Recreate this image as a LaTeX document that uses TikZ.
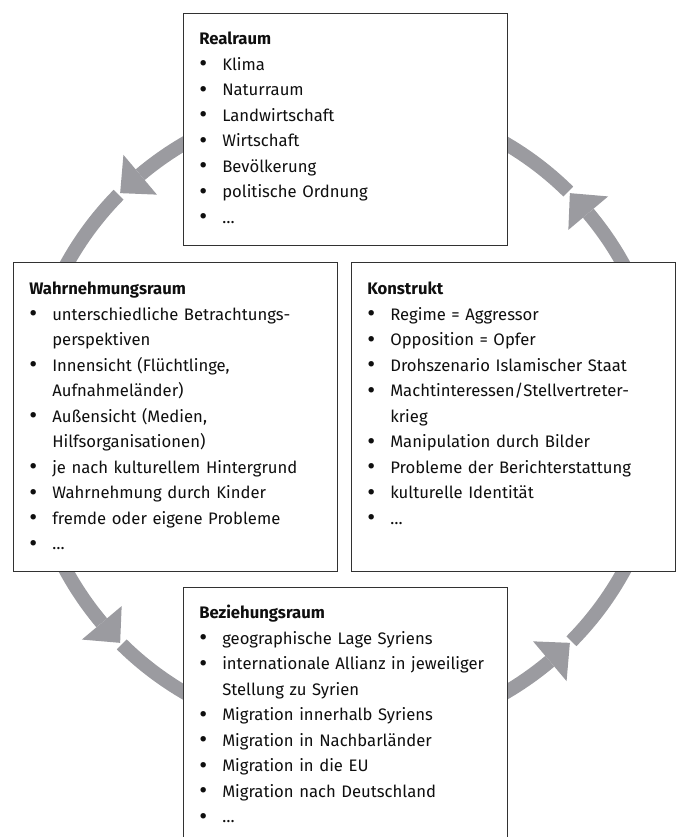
\documentclass[tikz,border=0pt]{standalone}
\usepackage{fontspec}
\usepackage{graphicx}
\setmainfont{Fira Sans}
\usetikzlibrary{calc}
\definecolor{ringgray}{RGB}{155,155,160}
\definecolor{boxline}{RGB}{50,50,50}
\definecolor{txtcol}{RGB}{15,15,15}
\newcommand\bul{\makebox[17.25pt][l]{\raisebox{-0.09em}{\scalebox{1.45}{\textbullet}}}}
\newcommand\cont{\hspace*{17.25pt}}
\begin{document}
\begin{tikzpicture}[x=0.75pt,y=0.75pt,
  ring/.style={draw=ringgray, line width=10.5pt},
  ringtip/.style={fill=ringgray},
  box/.style={draw=boxline, line width=0.9pt, fill=white, rectangle, inner sep=0pt, minimum width=243pt, anchor=north west},
  txt/.style={anchor=base west, inner sep=0pt, text width=260pt, align=left, text=txtcol, font=\fontsize{12.5pt}{19.1pt}\selectfont}]
\useasboundingbox (0,0) rectangle (680,837);
\coordinate (c) at (345,419);
% ring segments between the boxes, each with an arrow head in its middle
\foreach \t in {45,135,225,315}{
  \pgfmathsetmacro\sa{\t-35}
  \pgfmathsetmacro\b{\t-4.9}
  \pgfmathsetmacro\sb{\t+0.4}
  \pgfmathsetmacro\e{\t+35}
  \draw[ring] ($(c)+(\sa:318)$) arc[start angle=\sa,end angle=\b,radius=238.5pt];
  \draw[ring] ($(c)+(\sb:318)$) arc[start angle=\sb,end angle=\e,radius=238.5pt];
  \fill[ringtip] ($(c)+(\b:344)$) -- ($(c)+(\t:318)$) -- ($(c)+(\b:292)$) -- cycle;
}
% boxes
\node[box, minimum height=174pt] (real) at (183,824) {};
\node[box, minimum height=231.75pt] (wahr) at (13,575) {};
\node[box, minimum height=231.75pt] (konst) at (351,575) {};
\node[box, minimum height=225pt] (bez) at (183,250) {};
% texts
\node[txt] (realtxt) at (199,792) {\textbf{Realraum}\\
\bul Klima\\
\bul Naturraum\\
\bul Landwirtschaft\\
\bul Wirtschaft\\
\bul Bevölkerung\\
\bul politische Ordnung\\
\bul …};
\node[txt] (wahrtxt) at (29,542) {\textbf{Wahrnehmungsraum}\\
\bul unterschiedliche Betrachtungs-\\
\cont perspektiven\\
\bul Innensicht (Flüchtlinge,\\
\cont Aufnahmeländer)\\
\bul Außensicht (Medien,\\
\cont Hilfsorganisationen)\\
\bul je nach kulturellem Hintergrund\\
\bul Wahrnehmung durch Kinder\\
\bul fremde oder eigene Probleme\\
\bul …};
\node[txt] (konsttxt) at (367,542) {\textbf{Konstrukt}\\
\bul Regime = Aggressor\\
\bul Opposition = Opfer\\
\bul Drohszenario Islamischer Staat\\
\bul Machtinteressen/Stellvertreter-\\
\cont krieg\\
\bul Manipulation durch Bilder\\
\bul Probleme der Berichterstattung\\
\bul kulturelle Identität\\
\bul …};
\node[txt] (beztxt) at (199,218) {\textbf{Beziehungsraum}\\
\bul geographische Lage Syriens\\
\bul internationale Allianz in jeweiliger\\
\cont Stellung zu Syrien\\
\bul Migration innerhalb Syriens\\
\bul Migration in Nachbarländer\\
\bul Migration in die EU\\
\bul Migration nach Deutschland\\
\bul …};
\end{tikzpicture}
\end{document}
